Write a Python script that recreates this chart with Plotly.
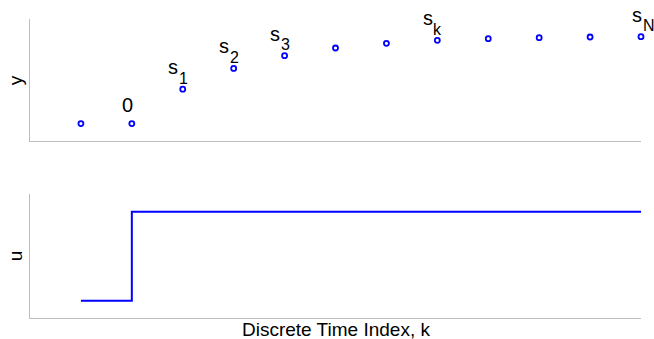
import plotly.graph_objects as go

# ---- data ----
k_index = [-1, 0, 1, 2, 3, 4, 5, 6, 7, 8, 9, 10]
y_values = [0.0, 0.0, 0.396, 0.635, 0.781, 0.870, 0.924, 0.958, 0.977, 0.988, 0.996, 1.0]
u_values = [0, 1, 1, 1, 1, 1, 1, 1, 1, 1, 1, 1]
zero_label_k = 0
zero_label_text = "0"
s_label_k = [1, 2, 3, 6, 10]
s_label_sub = ["1", "2", "3", "k", "N"]
x_title = "Discrete Time Index, k"
y_title_top = "y"
y_title_bottom = "u"

FONT = "Liberation Sans, Arial, Helvetica, sans-serif"
BLUE = "#0000ff"
GREY = "#bdbdbd"

fig = go.Figure()
fig.add_trace(go.Scatter(
    x=k_index, y=y_values, mode="markers", xaxis="x", yaxis="y",
    marker=dict(symbol="circle", size=5, color="white",
                line=dict(color=BLUE, width=1.8)),
    cliponaxis=False, showlegend=False, hoverinfo="skip"))
fig.add_trace(go.Scatter(
    x=k_index, y=u_values, mode="lines", xaxis="x2", yaxis="y2",
    line=dict(color=BLUE, width=2, shape="hv"),
    cliponaxis=False, showlegend=False, hoverinfo="skip"))

axis_common = dict(showline=True, linecolor=GREY, linewidth=1, mirror=False,
                   showgrid=False, zeroline=False, showticklabels=False,
                   ticks="", fixedrange=True)

annotations = []
# "0" label
annotations.append(dict(
    x=zero_label_k, y=y_values[k_index.index(zero_label_k)], xref="x", yref="y",
    text=zero_label_text, showarrow=False, xanchor="center", yanchor="bottom",
    xshift=-4, yshift=6, font=dict(family=FONT, size=20, color="black")))
# s_i labels
for kk, sub in zip(s_label_k, s_label_sub):
    yy = y_values[k_index.index(kk)]
    dx = 3 if sub == "N" else -2.5
    annotations.append(dict(
        x=kk, y=yy, xref="x", yref="y", text="s", showarrow=False,
        xanchor="right", yanchor="bottom", xshift=dx, yshift=9,
        font=dict(family=FONT, size=20, color="black")))
    annotations.append(dict(
        x=kk, y=yy, xref="x", yref="y", text=sub, showarrow=False,
        xanchor="left", yanchor="bottom", xshift=dx - 3.5, yshift=0.5,
        font=dict(family=FONT, size=16, color="black")))
# axis titles
annotations.append(dict(
    x=(336 - 30) / 611, y=0.0605 + 1.5 / 339, xref="paper", yref="paper", text=x_title,
    showarrow=False, xanchor="center", yanchor="top",
    font=dict(family=FONT, size=19, color="black")))
annotations.append(dict(
    x=(15.3 - 30) / 611, y=(339 - 80) / 339, xref="paper", yref="paper",
    text=y_title_top, showarrow=False, textangle=-90,
    xanchor="center", yanchor="middle",
    font=dict(family=FONT, size=19, color="black")))
annotations.append(dict(
    x=(15.3 - 30) / 611, y=(339 - 256) / 339, xref="paper", yref="paper",
    text=y_title_bottom, showarrow=False, textangle=-90,
    xanchor="center", yanchor="middle",
    font=dict(family=FONT, size=19, color="black")))

fig.update_layout(
    width=654, height=339, autosize=False,
    margin=dict(l=30, r=13, t=0, b=0, pad=0),
    paper_bgcolor="white", plot_bgcolor="white",
    xaxis=dict(domain=[0, 1], range=[-2, 10], anchor="y", **axis_common),
    yaxis=dict(domain=[0.5841, 0.9431], range=[-0.2, 1.2], anchor="x", **axis_common),
    xaxis2=dict(domain=[0, 1], range=[-2, 10], anchor="y2", **axis_common),
    yaxis2=dict(domain=[0.0605, 0.4277], range=[-0.2, 1.2], anchor="x2", **axis_common),
    annotations=annotations,
    showlegend=False,
)

fig.write_html("out.html", config={"displayModeBar": False})
